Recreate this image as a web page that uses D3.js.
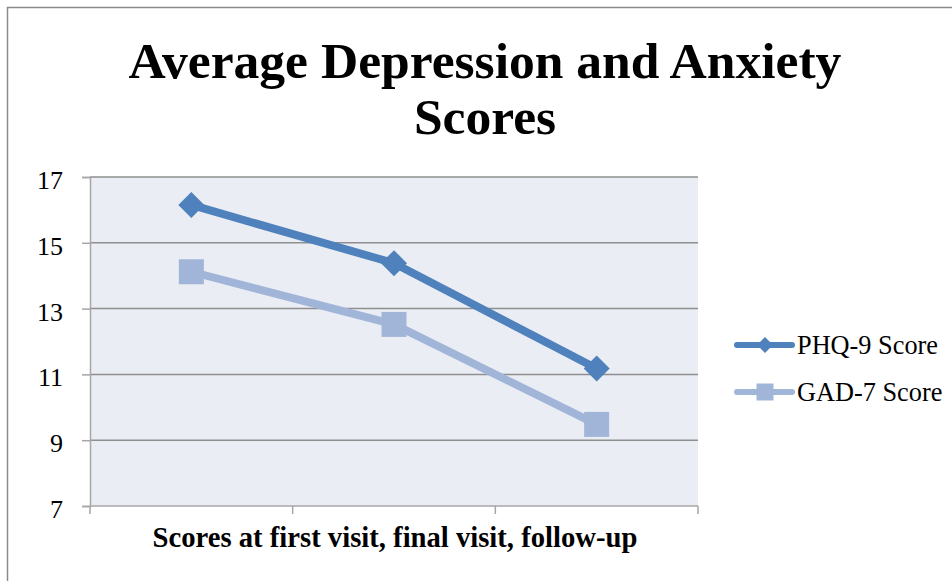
<!DOCTYPE html>
<html>
<head>
<meta charset="utf-8">
<script src="https://cdn.jsdelivr.net/npm/d3@7"></script>
<style>
  body { margin: 0; background: #fff; }
  svg { display: block; font-family: "Liberation Serif", "DejaVu Serif", serif; }
</style>
</head>
<body>
<div id="chart"></div>
<script>
// data
const visits = ["first visit", "final visit", "follow-up"];
const phq9 = [16.15, 14.38, 11.18];
const gad7 = [14.12, 12.52, 9.48];
const yTicks = [7, 9, 11, 13, 15, 17];
const seriesNames = ["PHQ-9 Score", "GAD-7 Score"];

const W = 952, H = 581;
const margin = { top: 177, right: 254, bottom: 75, left: 90 };
const width = W - margin.left - margin.right,
      height = H - margin.top - margin.bottom;

const svg = d3.select("#chart").append("svg")
  .attr("width", W)
  .attr("height", H);

// outer chart border (runs off the picture on right/bottom)
svg.append("rect")
  .attr("x", 7.5).attr("y", 7.5)
  .attr("width", W + 20).attr("height", H + 20)
  .attr("fill", "none")
  .attr("stroke", "#8a8a8a")
  .attr("stroke-width", 1.5);

// shrink/grow a text so it spans the width seen in the picture
function fitWidth(sel, target, size) {
  const w = sel.node().getComputedTextLength();
  sel.attr("font-size", size * target / w);
}

// title
const title1 = svg.append("text")
  .attr("x", 485).attr("y", 78)
  .attr("text-anchor", "middle")
  .attr("font-weight", "bold")
  .attr("font-size", 50)
  .text("Average Depression and Anxiety");
fitWidth(title1, 713, 50);
svg.append("text")
  .attr("x", 485).attr("y", 134)
  .attr("text-anchor", "middle")
  .attr("font-weight", "bold")
  .attr("font-size", title1.attr("font-size"))
  .text("Scores");

const g = svg.append("g")
  .attr("transform", `translate(${margin.left},${margin.top})`);

// scales
const x = d3.scaleBand()
  .domain(visits)
  .range([0, width]);

const y = d3.scaleLinear()
  .domain([7, 17])
  .range([height, 0]);

// plot background
g.append("rect")
  .attr("width", width)
  .attr("height", height)
  .attr("fill", "#eaedf3");

// gridlines
g.selectAll(".grid")
  .data(yTicks.slice(1))
  .enter().append("line")
    .attr("class", "grid")
    .attr("x1", 0).attr("x2", width)
    .attr("y1", d => y(d)).attr("y2", d => y(d))
    .attr("stroke", "#8f8f8f")
    .attr("stroke-width", 1.5);

// y axis
const yAxis = g.append("g")
  .call(d3.axisLeft(y).tickValues(yTicks).tickSize(8).tickPadding(19));
yAxis.attr("font-size", 26).attr("font-family", null);
yAxis.select(".domain").attr("stroke", "#a6a6a6").attr("stroke-width", 1.5);
yAxis.selectAll(".tick line").attr("stroke", "#a6a6a6").attr("stroke-width", 1.5);
yAxis.selectAll(".tick text").attr("fill", "#000").attr("dy", "0.44em");

// x axis: ticks at band edges
const xAxis = g.append("g")
  .attr("transform", `translate(0,${height})`);
xAxis.append("line")
  .attr("x1", 0).attr("x2", width)
  .attr("stroke", "#a6a6a6").attr("stroke-width", 1.5);
const edges = visits.map(v => x(v)).concat([x(visits[visits.length - 1]) + x.bandwidth()]);
xAxis.selectAll(".xtick")
  .data(edges)
  .enter().append("line")
    .attr("class", "xtick")
    .attr("x1", d => d).attr("x2", d => d)
    .attr("y1", 0).attr("y2", 8)
    .attr("stroke", "#a6a6a6").attr("stroke-width", 1.5);

const xLabel = svg.append("text")
  .attr("x", 395)
  .attr("y", 547)
  .attr("text-anchor", "middle")
  .attr("font-weight", "bold")
  .attr("font-size", 28)
  .text("Scores at first visit, final visit, follow-up");
fitWidth(xLabel, 485, 28);

// lines
const series = [
  { name: seriesNames[0], values: phq9, color: "#4f81bd", marker: "diamond" },
  { name: seriesNames[1], values: gad7, color: "#a1b5d8", marker: "square" }
];

const line = d3.line()
  .x((d, i) => x(visits[i]) + x.bandwidth() / 2)
  .y(d => y(d));

function drawMarker(sel, type, size, color) {
  if (type === "diamond") {
    sel.append("path")
      .attr("d", `M0,${-size}L${size},0L0,${size}L${-size},0Z`)
      .attr("fill", color);
  } else {
    sel.append("rect")
      .attr("x", -size).attr("y", -size)
      .attr("width", size * 2).attr("height", size * 2)
      .attr("fill", color);
  }
}

series.forEach(s => {
  g.append("path")
    .datum(s.values)
    .attr("fill", "none")
    .attr("stroke", s.color)
    .attr("stroke-width", 8)
    .attr("stroke-linejoin", "round")
    .attr("d", line);

  g.selectAll(".m-" + s.marker)
    .data(s.values)
    .enter().append("g")
      .attr("class", "m-" + s.marker)
      .attr("transform", (d, i) => `translate(${x(visits[i]) + x.bandwidth() / 2},${y(d)})`)
      .each(function() { drawMarker(d3.select(this), s.marker, s.marker === "diamond" ? 13 : 12.5, s.color); });
});

// legend
const legend = svg.append("g").attr("transform", "translate(737,345)");
series.forEach((s, i) => {
  const row = legend.append("g").attr("transform", `translate(0,${i * 47})`);
  row.append("line")
    .attr("x1", 0).attr("x2", 55)
    .attr("stroke", s.color).attr("stroke-width", 6)
    .attr("stroke-linecap", "round");
  const m = row.append("g").attr("transform", "translate(28,0)");
  drawMarker(m, s.marker, s.marker === "diamond" ? 8 : 8.5, s.color);
  const t = row.append("text")
    .attr("x", 60)
    .attr("y", 9)
    .attr("font-size", 26)
    .text(s.name);
  if (i === 0) fitWidth(t, 141, 26);
  else t.attr("font-size", legend.select("text").attr("font-size"));
});
</script>
</body>
</html>
